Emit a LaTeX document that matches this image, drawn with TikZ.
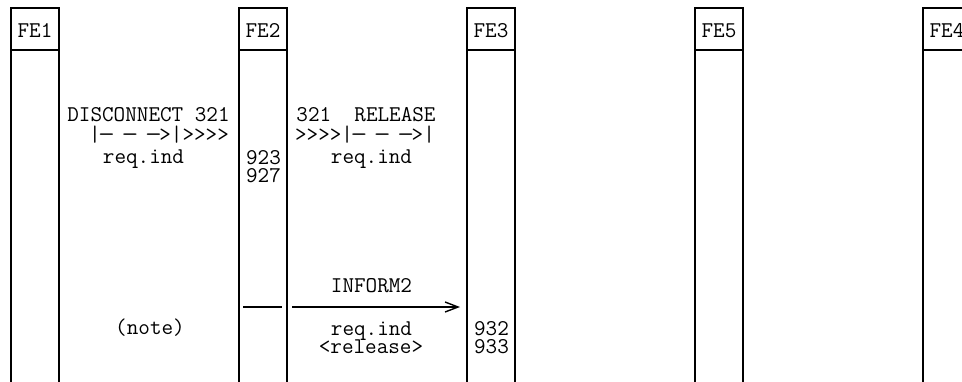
\documentclass[tikz,border=0pt]{standalone}
\usetikzlibrary{arrows.meta}
\newcommand\dsh{\makebox[0.525em]{\scalebox{1.45}[1]{-}}}
\begin{document}
\begin{tikzpicture}[x=1pt,y=-1pt,
  every node/.style={font=\ttfamily\fontsize{22.5}{18}\selectfont, inner sep=0pt, outer sep=0pt},
  hdr/.style={draw, line width=1.6pt, minimum width=48pt, minimum height=42pt, anchor=north west},
  body/.style={draw, line width=1.6pt, minimum width=48pt, minimum height=360pt, anchor=north west},
  topline/.style={line width=2pt},
  lbl/.style={anchor=base, text height=13pt, text depth=3pt},
  msg/.style={line width=1.6pt},
  arr/.style={line width=1.6pt, -{Straight Barb[length=13pt,width=10pt,line width=1.4pt]}}]
\useasboundingbox (0,0) rectangle (962,381);
% columns
\node[hdr] (fe1) at (11,8) {};
\node[hdr] (fe2) at (239,8) {};
\node[hdr] (fe3) at (467,8) {};
\node[hdr] (fe5) at (695,8) {};
\node[hdr] (fe4) at (923,8) {};
\foreach \n in {fe1,fe2,fe3,fe5,fe4}
  \draw[topline] (\n.north west) -- (\n.north east);
\node[lbl] (t1) at (35,37) {FE1};
\node[lbl] (t2) at (263,37) {FE2};
\node[lbl] (t3) at (491,37) {FE3};
\node[lbl] (t5) at (719,37) {FE5};
\node[lbl] (t4) at (947,37) {FE4};
\node[body] (b1) at (fe1.south west) {};
\node[body] (b2) at (fe2.south west) {};
\node[body] (b3) at (fe3.south west) {};
\node[body] (b5) at (fe5.south west) {};
\node[body] (b4) at (fe4.south west) {};
% first exchange
\node[lbl] (disc) at (148.5,121) {DISCONNECT 321};
\node[lbl] (da) at (159,141) {|\dsh{} \dsh{} \dsh>|>>>>};
\node[lbl] (dr) at (143.5,163) {req.ind};
\node[lbl] (n923) at (263.5,164) {923};
\node[lbl] (n927) at (263.5,182) {927};
\node[lbl] (rel) at (366,121) {321\ \ RELEASE};
\node[lbl] (ra) at (365,141) {>>>>|\dsh{} \dsh{} \dsh>|};
\node[lbl] (rr) at (371.5,163) {req.ind};
% second exchange
\coordinate (s1) at (243,307);
\coordinate (s2) at (282,307);
\coordinate (a1) at (292,307);
\coordinate (a2) at (460,307);
\draw[msg] (s1) -- (s2);
\draw[arr] (a1) -- (a2);
\node[lbl] (inf) at (371.5,292) {INFORM2};
\node[lbl] (ir) at (371.5,335) {req.ind};
\node[lbl] (irel) at (371,353) {<release>};
\node[lbl] (n932) at (491.5,335) {932};
\node[lbl] (n933) at (491.5,353) {933};
\node[lbl] (note) at (150,334) {(note)};
\end{tikzpicture}
\end{document}
